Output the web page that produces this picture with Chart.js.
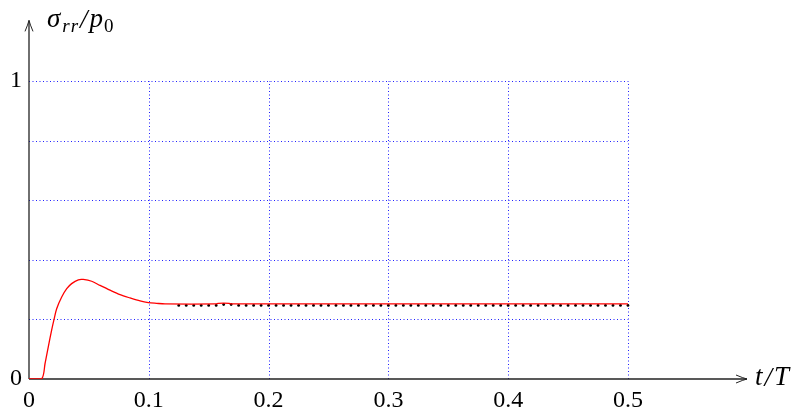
<!DOCTYPE html>
<html>
<head>
<meta charset="utf-8">
<script src="https://cdn.jsdelivr.net/npm/chart.js@4/dist/chart.umd.min.js"></script>
<style>
html,body{margin:0;padding:0;background:#fff;}
#wrap{width:795px;height:409px;}
</style>
</head>
<body>
<div id="wrap"><canvas id="c" width="795" height="409"></canvas></div>
<script>
// ---- data ----
const xTickValues = [0, 0.1, 0.2, 0.3, 0.4, 0.5];
const xTickLabels = ["0", "0.1", "0.2", "0.3", "0.4", "0.5"];
const yTickValues = [0, 1];
const yTickLabels = ["0", "1"];
const xGridValues = [0.1, 0.2, 0.3, 0.4, 0.5];
const yGridValues = [0.2, 0.4, 0.6, 0.8, 1.0];

const redT = [0, 0.0106, 0.0134, 0.0161, 0.0189, 0.0209, 0.0231, 0.0273, 0.0315, 0.0356, 0.0412, 0.0453, 0.0523, 0.0593, 0.0676, 0.076, 0.0843, 0.0927, 0.0996, 0.1065, 0.1135, 0.156, 0.158, 0.167, 0.169, 0.2, 0.3, 0.4, 0.5];
const redS = [0, 0.001, 0.052, 0.108, 0.164, 0.2, 0.236, 0.275, 0.303, 0.32, 0.333, 0.334, 0.328, 0.314, 0.298, 0.283, 0.272, 0.262, 0.2565, 0.254, 0.252, 0.252, 0.254, 0.254, 0.252, 0.252, 0.252, 0.252, 0.252];

const dotT = [0.125, 0.13125, 0.1375, 0.14375, 0.15, 0.15625, 0.1625, 0.16875, 0.175, 0.18125,
  0.1875, 0.19375, 0.2, 0.20625, 0.2125, 0.21875, 0.225, 0.23125, 0.2375, 0.24375,
  0.25, 0.25625, 0.2625, 0.26875, 0.275, 0.28125, 0.2875, 0.29375, 0.3, 0.30625,
  0.3125, 0.31875, 0.325, 0.33125, 0.3375, 0.34375, 0.35, 0.35625, 0.3625, 0.36875,
  0.375, 0.38125, 0.3875, 0.39375, 0.4, 0.40625, 0.4125, 0.41875, 0.425, 0.43125,
  0.4375, 0.44375, 0.45, 0.45625, 0.4625, 0.46875, 0.475, 0.48125, 0.4875, 0.49375, 0.5];
const dotS = [0.247, 0.247, 0.247, 0.247, 0.247, 0.247, 0.25, 0.25, 0.247, 0.247,
  0.247, 0.247, 0.247, 0.247, 0.247, 0.247, 0.247, 0.247, 0.247, 0.247,
  0.247, 0.247, 0.247, 0.247, 0.247, 0.247, 0.247, 0.247, 0.247, 0.247,
  0.247, 0.247, 0.247, 0.247, 0.247, 0.247, 0.247, 0.247, 0.247, 0.247,
  0.247, 0.247, 0.247, 0.247, 0.247, 0.247, 0.247, 0.247, 0.247, 0.247,
  0.247, 0.247, 0.247, 0.247, 0.247, 0.247, 0.247, 0.247, 0.247, 0.247, 0.247];

const X_MAX = 0.5977;
const Y_MAX = 1.2;
const FONT = '"Liberation Serif", "DejaVu Serif", serif';

const redData = redT.map((t, i) => ({x: t, y: redS[i]}));
const dotData = dotT.map((t, i) => ({x: t, y: dotS[i]}));

const decorPlugin = {
  id: 'decor',
  beforeDatasetsDraw(chart) {
    const ctx = chart.ctx;
    const xs = chart.scales.x, ys = chart.scales.y;
    const x0 = xs.getPixelForValue(0), y0 = ys.getPixelForValue(0);
    const xEnd = xs.getPixelForValue(0.5), yTop = ys.getPixelForValue(1);
    ctx.save();
    // grid
    ctx.strokeStyle = 'rgba(20,20,255,0.95)';
    ctx.lineWidth = 1;
    ctx.setLineDash([1, 2.5]);
    xGridValues.forEach(v => {
      const px = Math.round(xs.getPixelForValue(v)) + 0.5;
      ctx.beginPath(); ctx.moveTo(px, y0); ctx.lineTo(px, yTop); ctx.stroke();
    });
    yGridValues.forEach(v => {
      const py = Math.round(ys.getPixelForValue(v)) + 0.5;
      ctx.beginPath(); ctx.moveTo(x0, py); ctx.lineTo(xEnd, py); ctx.stroke();
    });
    ctx.setLineDash([]);
    // axes
    ctx.strokeStyle = '#222';
    ctx.lineWidth = 1.3;
    const xa = chart.chartArea;
    const tipX = xa.right + 2, tipY = xa.top - 1;
    ctx.beginPath(); ctx.moveTo(x0, y0); ctx.lineTo(tipX, y0); ctx.stroke();
    ctx.beginPath(); ctx.moveTo(x0, y0); ctx.lineTo(x0, tipY); ctx.stroke();
    // arrow heads
    ctx.lineWidth = 1;
    ctx.beginPath();
    ctx.moveTo(tipX - 11, y0 - 4); ctx.quadraticCurveTo(tipX - 4, y0 - 1, tipX, y0);
    ctx.quadraticCurveTo(tipX - 4, y0 + 1, tipX - 11, y0 + 4);
    ctx.stroke();
    ctx.beginPath();
    ctx.moveTo(x0 - 4, tipY + 11); ctx.quadraticCurveTo(x0 - 1, tipY + 4, x0, tipY);
    ctx.quadraticCurveTo(x0 + 1, tipY + 4, x0 + 4, tipY + 11);
    ctx.stroke();
    ctx.restore();
  },
  afterDraw(chart) {
    const ctx = chart.ctx;
    ctx.save();
    ctx.fillStyle = '#000';
    ctx.textBaseline = 'alphabetic';
    ctx.textAlign = 'left';
    // y-axis title sigma_rr / p_0
    let x = 47, base = 27;
    ctx.font = 'italic 27px ' + FONT;
    ctx.fillText('σ', x, base); x += ctx.measureText('σ').width + 2;
    ctx.font = 'italic 19px ' + FONT;
    ctx.fillText('r', x, base + 5); x += ctx.measureText('r').width + 1;
    ctx.fillText('r', x, base + 5); x += ctx.measureText('r').width + 2;
    ctx.font = 'italic 27px ' + FONT;
    ctx.fillText('/', x, base + 1); x += ctx.measureText('/').width + 2;
    ctx.fillText('p', x, base); x += ctx.measureText('p').width + 1;
    ctx.font = '19px ' + FONT;
    ctx.fillText('0', x, base + 5);
    // x-axis title t/T
    ctx.font = 'italic 27px ' + FONT;
    let tx = 755;
    ctx.fillText('t', tx, 385); tx += ctx.measureText('t').width + 2;
    ctx.fillText('/', tx, 386); tx += ctx.measureText('/').width + 2;
    ctx.fillText('T', tx, 385);
    ctx.restore();
  }
};

new Chart(document.getElementById('c'), {
  type: 'line',
  data: {
    datasets: [
      {
        label: 'red',
        data: redData,
        borderColor: '#ff0000',
        borderWidth: 1.3,
        pointRadius: 0,
        fill: false,
        tension: 0.3
      },
      {
        label: 'dots',
        data: dotData,
        showLine: false,
        pointRadius: 1.4,
        pointBackgroundColor: '#000',
        pointBorderColor: '#000',
        pointBorderWidth: 0
      }
    ]
  },
  options: {
    responsive: false,
    devicePixelRatio: 1,
    animation: false,
    layout: {padding: {top: 20, right: 50, left: 0, bottom: 0}},
    plugins: {legend: {display: false}, tooltip: {enabled: false}, title: {display: false}},
    scales: {
      x: {
        type: 'linear',
        min: 0, max: X_MAX,
        grid: {display: false, drawTicks: false},
        border: {display: false},
        afterBuildTicks: s => { s.ticks = xTickValues.map(v => ({value: v})); },
        afterFit: s => { s.height = 30; },
        ticks: {
          autoSkip: false,
          maxRotation: 0,
          padding: 7,
          color: '#000',
          font: {family: FONT, size: 24},
          callback: (v) => { const i = xTickValues.indexOf(v); return i >= 0 ? xTickLabels[i] : ''; }
        }
      },
      y: {
        type: 'linear',
        min: 0, max: Y_MAX,
        grid: {display: false, drawTicks: false},
        border: {display: false},
        afterBuildTicks: s => { s.ticks = yTickValues.map(v => ({value: v})); },
        afterFit: s => { s.width = 29; },
        ticks: {
          autoSkip: false,
          padding: 7,
          color: '#000',
          font: {family: FONT, size: 24},
          callback: (v) => { const i = yTickValues.indexOf(v); return i >= 0 ? yTickLabels[i] : ''; }
        }
      }
    }
  },
  plugins: [decorPlugin]
});
</script>
</body>
</html>
